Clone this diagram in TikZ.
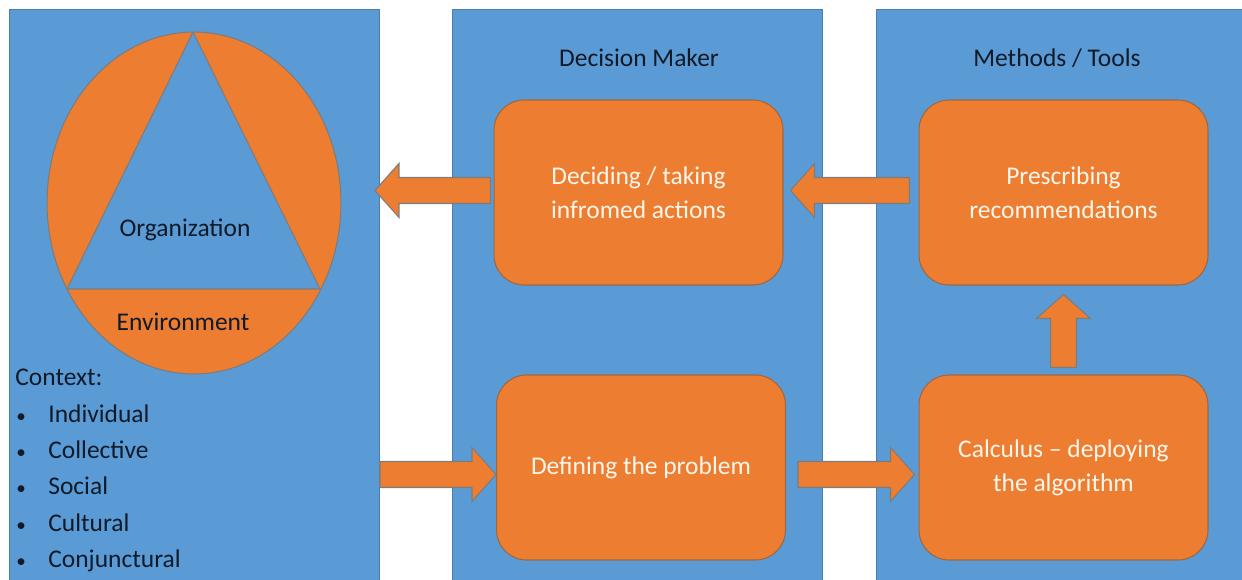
\documentclass[tikz,border=0pt]{standalone}
\usepackage{fontspec}
\setmainfont{Carlito}
\usetikzlibrary{calc}

\definecolor{panelblue}{HTML}{5B9BD5}
\definecolor{paneledge}{HTML}{4A7EAE}
\definecolor{boxorange}{HTML}{ED7D31}
\definecolor{boxedge}{HTML}{A0663F}
\definecolor{arrowedge}{HTML}{7C7C7C}
\definecolor{ink}{HTML}{101A28}
\definecolor{boxtext}{HTML}{FFF6EC}

\tikzset{
  panel/.style={draw=paneledge, line width=0.6pt, fill=panelblue, rectangle, inner sep=0pt},
  stage/.style={draw=boxedge, line width=0.6pt, fill=boxorange, rounded corners=0.6cm,
    minimum width=5.78cm, minimum height=3.7cm, align=center, text=boxtext,
    font=\fontsize{14.5}{19.5}\selectfont},
  headtext/.style={text=ink, font=\fontsize{14.5}{17}\selectfont, inner sep=0pt},
  fatarrow/.style={draw=arrowedge, line width=0.6pt, fill=boxorange, line join=miter}
}

% block arrow from #1 (tail) to #2 (tip)
\newcommand\blockarrow[2]{%
  \coordinate (hb) at ($(#2)!0.48cm!(#1)$);
  \draw[fatarrow] ($(#1)!0.26cm!90:(#2)$) -- ($(hb)!0.26cm!90:(#2)$)
    -- ($(hb)!0.54cm!90:(#2)$) -- (#2) -- ($(hb)!0.54cm!-90:(#2)$)
    -- ($(hb)!0.26cm!-90:(#2)$) -- ($(#1)!0.26cm!-90:(#2)$) -- cycle;}

\begin{document}
\begin{tikzpicture}[x=0.02cm,y=-0.02cm]
\useasboundingbox (0,0) rectangle (1242,580);

% three columns
\node[panel, anchor=north west, minimum width=7.4cm, minimum height=12cm] (ctx) at (9,9) {};
\node[panel, anchor=north west, minimum width=7.4cm, minimum height=12cm] (dm) at (452,9) {};
\node[panel, anchor=north west, minimum width=8cm, minimum height=12cm] (mt) at (876,9) {};

% organization inside its environment
\draw[draw=arrowedge, line width=0.6pt, fill=boxorange] (194,203) ellipse [x radius=2.94cm, y radius=3.42cm];
\draw[draw=arrowedge, line width=0.6pt, fill=panelblue] (193,32) -- (67,289) -- (320,289) -- cycle;
\node[headtext] (org) at (185,230) {Organization};
\node[headtext] (env) at (183,322) {Environment};

% context list
\node[headtext, anchor=base west] (ctxhead) at (15,386) {Context:};
\foreach \word [count=\i] in {Individual,Collective,Social,Cultural,Conjunctural}{
  \node[headtext, anchor=base west] (bul\i) at (16,{386+36.3*\i}) {\scalebox{0.75}{\textbullet}};
  \node[headtext, anchor=base west] (ctx\i) at (48,{386+36.3*\i}) {\word};
}

% column titles
\node[headtext] (dmhead) at (639,58) {Decision Maker};
\node[headtext] (mthead) at (1057,58) {Methods / Tools};

% steps
\node[stage] (decide) at (638.5,192.5) {Deciding / taking\\infromed actions};
\node[stage] (define) at (641,467.5) {Defining the problem};
\node[stage] (prescribe) at (1063.5,192.5) {Prescribing\\recommendations};
\node[stage] (calculus) at (1063.5,467.5) {Calculus -- deploying\\the algorithm};

% arrows
\coordinate (a1) at ($(decide.west)+(-3,-2)$);
\coordinate (b1) at ($(ctx.east |- decide.west)+(-5,-2)$);
\blockarrow{a1}{b1}
\coordinate (a2) at ($(prescribe.west)+(-9,-2)$);
\coordinate (b2) at ($(decide.east)+(7,-2)$);
\blockarrow{a2}{b2}
\coordinate (a3) at ($(ctx.east |- define.west)+(0,7)$);
\coordinate (b3) at ($(define.west)+(0,7)$);
\blockarrow{a3}{b3}
\coordinate (a4) at ($(define.east)+(12,7)$);
\coordinate (b4) at ($(calculus.west)+(-4,7)$);
\blockarrow{a4}{b4}
\coordinate (a5) at ($(calculus.north)+(0,-7)$);
\coordinate (b5) at ($(prescribe.south)+(0,9)$);
\blockarrow{a5}{b5}

\end{tikzpicture}
\end{document}
